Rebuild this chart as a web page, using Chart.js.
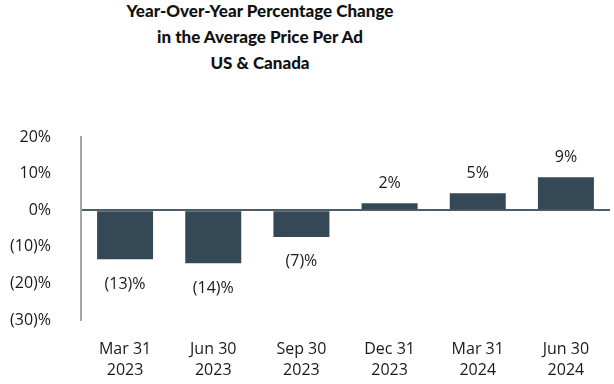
<!DOCTYPE html>
<html>
<head>
<meta charset="utf-8">
<script src="https://cdn.jsdelivr.net/npm/chart.js@4"></script>
<style>
  body { margin: 0; background: #fff; }
  #wrap { position: relative; width: 614px; height: 384px; }
  #title {
    position: absolute; left: 0; top: -2px; width: 520px;
    text-align: center; font-family: "Lato", sans-serif; font-weight: 900;
    font-size: 17px; line-height: 26px; color: #111;
  }
  canvas { position: absolute; left: 0; top: 0; }
</style>
</head>
<body>
<div id="wrap">
  <div id="title">Year-Over-Year Percentage Change<br>in the Average Price Per Ad<br>US &amp; Canada</div>
  <canvas id="chart" width="614" height="384"></canvas>
</div>
<script>
const quarters = [["Mar 31", "2023"], ["Jun 30", "2023"], ["Sep 30", "2023"], ["Dec 31", "2023"], ["Mar 31", "2024"], ["Jun 30", "2024"]];
const changePct = [-13.4, -14.5, -7.3, 1.9, 4.6, 9.0];
const valueLabels = ["(13)%", "(14)%", "(7)%", "2%", "5%", "9%"];
const tickLabels = { 20: "20%", 10: "10%", 0: "0%", "-10": "(10)%", "-20": "(20)%", "-30": "(30)%" };

const fontFamily = "'Open Sans', sans-serif";
const barColor = "#344955";

// draws the value labels above / below each bar
const barLabels = {
  id: "barLabels",
  afterDatasetsDraw(chart) {
    const ctx = chart.ctx;
    const meta = chart.getDatasetMeta(0);
    ctx.save();
    ctx.font = "16px " + fontFamily;
    ctx.fillStyle = "#1a1a1a";
    ctx.textAlign = "center";
    ctx.textBaseline = "middle";
    meta.data.forEach((bar, i) => {
      const v = changePct[i];
      const y = v >= 0 ? bar.y - 20 : bar.y + 25;
      ctx.fillText(valueLabels[i], bar.x, y);
    });
    ctx.restore();
  }
};

new Chart(document.getElementById("chart"), {
  type: "bar",
  data: {
    labels: quarters,
    datasets: [{
      data: changePct,
      backgroundColor: barColor,
      barPercentage: 0.635,
      categoryPercentage: 1
    }]
  },
  options: {
    responsive: false,
    animation: false,
    layout: { padding: { top: 137, right: 4, bottom: 0, left: 0 } },
    plugins: {
      legend: { display: false },
      tooltip: { enabled: false }
    },
    scales: {
      x: {
        afterFit(scale) { scale.height = 64; },
        grid: { display: false, drawTicks: false },
        border: { display: false },
        ticks: {
          padding: 19,
          color: "#1a1a1a",
          font: { family: fontFamily, size: 16, lineHeight: 1.3 },
          maxRotation: 0
        }
      },
      y: {
        min: -30,
        max: 20,
        afterFit(scale) { scale.width = 81; },
        grid: {
          drawTicks: false,
          lineWidth: 2,
          color: (c) => (c.tick && c.tick.value === 0 ? "#4d5d68" : "rgba(0,0,0,0)")
        },
        border: { color: "#a6a6a6", width: 2 },
        ticks: {
          stepSize: 10,
          padding: 30,
          color: "#1a1a1a",
          font: { family: fontFamily, size: 16 },
          callback: (v) => tickLabels[v]
        }
      }
    }
  },
  plugins: [barLabels]
});
</script>
</body>
</html>
